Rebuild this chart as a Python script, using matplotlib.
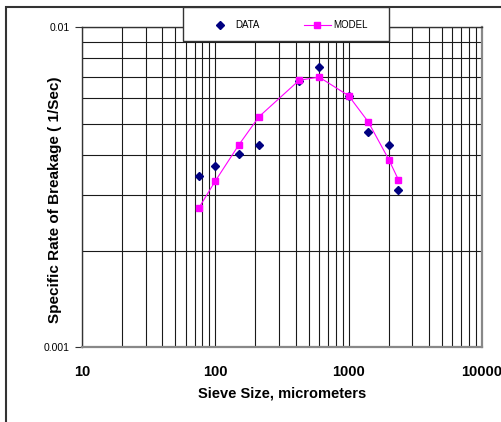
import matplotlib
matplotlib.use("Agg")
import matplotlib.pyplot as plt
from matplotlib.patches import Rectangle
from matplotlib.ticker import LogLocator, FixedLocator, NullFormatter, FixedFormatter

plt.rcParams['font.family'] = ['Liberation Sans', 'DejaVu Sans']

# Data
sieve_size = [75, 100, 150, 212, 425, 600, 1000, 1400, 2000, 2360]
data_rate = [0.00344, 0.00369, 0.00401, 0.00430, 0.00679, 0.00753, 0.00611, 0.00472, 0.00430, 0.00310]
model_rate = [0.00272, 0.00331, 0.00429, 0.00525, 0.00683, 0.00699, 0.00611, 0.00507, 0.00386, 0.00334]
x_ticks = [10, 100, 1000, 10000]
x_tick_labels = ["10", "100", "1000", "10000"]
y_ticks = [0.001, 0.01]
y_tick_labels = ["0.001", "0.01"]

W, H = 501, 422
fig = plt.figure(figsize=(W / 100, H / 100), dpi=100)
ax = fig.add_axes([82 / W, 1 - 347.3 / H, 400 / W, 320 / H])

ax.set_xscale('log')
ax.set_yscale('log')
ax.set_xlim(10, 10000)
ax.set_ylim(0.001, 0.01)

ax.grid(which='both', color='#1a1a1a', linewidth=0.8)
ax.set_axisbelow(True)

ax.xaxis.set_major_locator(FixedLocator(x_ticks))
ax.xaxis.set_major_formatter(FixedFormatter(x_tick_labels))
ax.xaxis.set_minor_locator(LogLocator(base=10, subs=range(2, 10), numticks=20))
ax.xaxis.set_minor_formatter(NullFormatter())
ax.yaxis.set_major_locator(FixedLocator(y_ticks))
ax.yaxis.set_major_formatter(FixedFormatter(y_tick_labels))
ax.yaxis.set_minor_locator(LogLocator(base=10, subs=range(2, 10), numticks=20))
ax.yaxis.set_minor_formatter(NullFormatter())

ax.tick_params(axis='x', which='both', length=0, pad=13)
ax.tick_params(axis='y', which='major', length=5, width=0.8, color='#333333', pad=4, labelsize=7.5)
ax.tick_params(axis='y', which='minor', length=0)
for lab in ax.get_xticklabels():
    lab.set_fontweight('bold')
    lab.set_fontsize(10.5)

for side in ['left', 'top']:
    ax.spines[side].set_color('#333333')
    ax.spines[side].set_linewidth(1.0)
for side in ['right', 'bottom']:
    ax.spines[side].set_color('#888888')
    ax.spines[side].set_linewidth(1.6)

ax.plot(sieve_size, data_rate, linestyle='none', marker='D', markersize=4.2,
        color='#000080', label='DATA', zorder=3, clip_on=False)
ax.plot(sieve_size, model_rate, linestyle='-', linewidth=0.8, marker='s', markersize=4.6,
        color='#FF00FF', label='MODEL', zorder=4, clip_on=False)

# Outer chart border
fig.patches.append(Rectangle((6 / W, -0.2), 1.5, (H - 7) / H + 0.2, transform=fig.transFigure,
                             fill=False, edgecolor='#333333', linewidth=1.5))

# Legend box
lx0, lx1, ly0, ly1 = 183, 389, 7, 41
fig.patches.append(Rectangle((lx0 / W, 1 - ly1 / H), (lx1 - lx0) / W, (ly1 - ly0) / H,
                             transform=fig.transFigure, facecolor='white',
                             edgecolor='#333333', linewidth=1.0, zorder=5))
handles, labels = ax.get_legend_handles_labels()
leg = fig.legend(handles, labels, loc='center', ncol=2,
                 bbox_to_anchor=((lx0 + lx1) / 2 / W + 1 / W, 1 - (ly0 + ly1) / 2 / H - 1 / H),
                 frameon=False, fontsize=7, handlelength=2.8, handletextpad=0.2,
                 columnspacing=4.5, borderpad=0)
leg.set_zorder(6)

fig.text(55 / W, 1 - 199.5 / H, "Specific Rate of Breakage ( 1/Sec)", rotation=90,
         ha='center', va='center', fontsize=11, fontweight='bold')
fig.text(282 / W, 1 - 394 / H, "Sieve Size, micrometers", ha='center', va='center',
         fontsize=10.5, fontweight='bold')

fig.savefig("out.png", dpi=100)
